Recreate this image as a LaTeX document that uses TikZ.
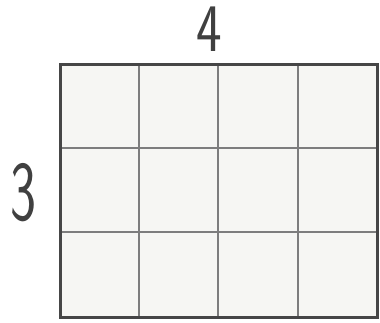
\documentclass[tikz,border=0pt]{standalone}
\definecolor{gridgrey}{RGB}{125,125,125}
\definecolor{edgegrey}{RGB}{70,70,70}
\definecolor{paper}{RGB}{246,246,243}
\usepackage{tikz}

\begin{document}
\begin{tikzpicture}[x=1pt, y=-1pt,
        digit/.style={inner sep=0pt, text=black!75, font=\sffamily},
        inner/.style={draw=gridgrey, line width=1.8pt},
        outline/.style={draw=edgegrey, line width=3pt}
      ]
        \useasboundingbox (0,0) rectangle (380,322);
        % cells
        \fill[paper] (60,64) rectangle (377,317);
        \foreach \x in {139,218,298}
          \draw[inner] (\x,64) -- (\x,317);
        \foreach \y in {148,232}
          \draw[inner] (60,\y) -- (377,\y);
        \draw[outline] (60,64) rectangle (377,317);
        % side lengths
        \node[digit] (cols) at (209,29) {\fontsize{68}{68}\selectfont\scalebox{0.8}[1]{4}};
        \node[digit] (rows) at (23,193) {\fontsize{85}{85}\selectfont\scalebox{0.65}[1]{3}};
      \end{tikzpicture}
\end{document}
